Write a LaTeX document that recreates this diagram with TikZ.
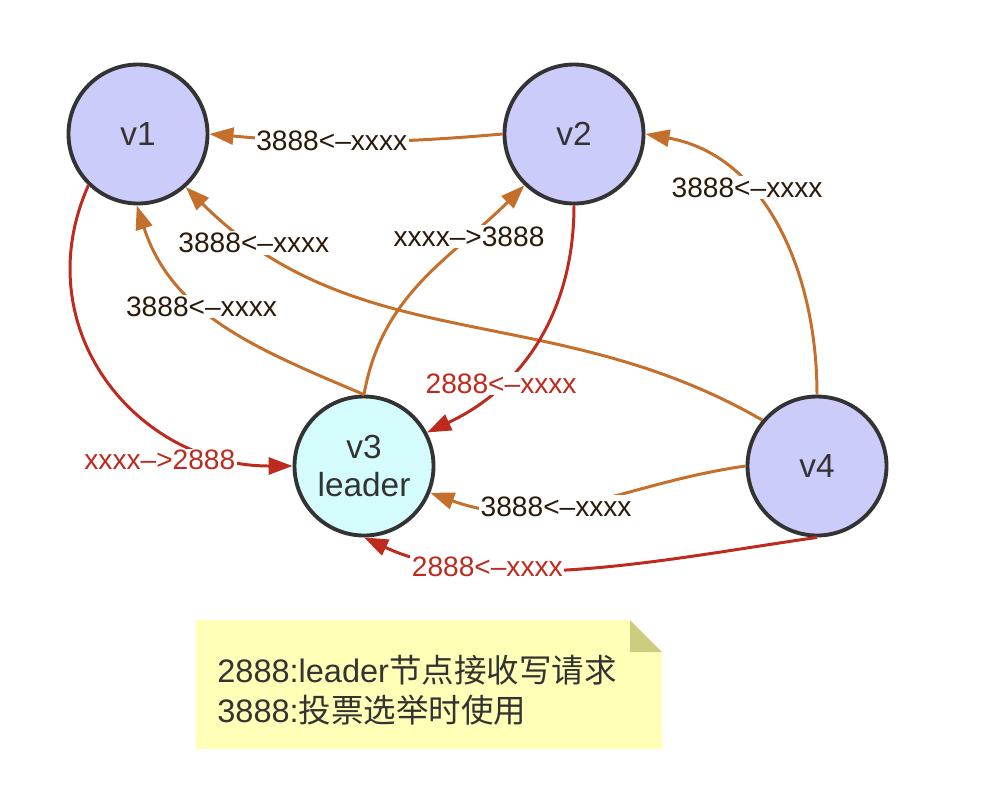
\documentclass[tikz,border=0pt]{standalone}
\usepackage{fontspec}
\setmainfont{Liberation Sans}
\newfontfamily\cjk{Noto Sans CJK SC}
\usetikzlibrary{arrows.meta}

\definecolor{nodeline}{HTML}{333333}
\definecolor{vfill}{HTML}{CCCCFA}
\definecolor{leaderfill}{HTML}{D5FCFC}
\definecolor{votecol}{HTML}{C4702C}
\definecolor{writecol}{HTML}{BE2A1E}
\definecolor{lbltext}{HTML}{2B1A0A}
\definecolor{notefill}{HTML}{FFFFB8}
\definecolor{foldfill}{HTML}{CCCC80}

\begin{document}
\begin{tikzpicture}[
    vnode/.style={circle, draw=nodeline, line width=2.2pt, fill=vfill, minimum size=2.78cm,
      text=nodeline, font=\fontsize{19}{22}\selectfont, align=center},
    vote/.style={draw=votecol, line width=1.7pt, -{Triangle[length=0.48cm,width=0.34cm]}},
    write/.style={draw=writecol, line width=1.7pt, -{Triangle[length=0.48cm,width=0.34cm]}},
    lbl/.style={fill=white, inner sep=1pt, text=lbltext, font=\fontsize{16}{19}\selectfont},
    wlbl/.style={lbl, text=writecol}
  ]
    \useasboundingbox (0,0) rectangle (20.12,-15.72);

    % Draw nodes
    \foreach \n/\x/\y in {v1/2.76/-2.68, v2/11.48/-2.68, v4/16.34/-9.32} {
      \node[vnode] (\n) at (\x,\y) {\n};
    }
    \node[vnode, fill=leaderfill] (v3) at (7.28,-9.32) {v3\\leader};

    % Draw vote edges (3888)
    \draw[vote] (v2.west) to[bend left=5] node[lbl, pos=0.59] {3888<–xxxx} (v1.east);
    \draw[vote] (v3.north) to[out=157, in=-72] node[lbl, pos=0.6] {3888<–xxxx} (v1.-91);
    \draw[vote] (v4.140) to[out=150, in=-45] node[lbl, pos=0.87] {3888<–xxxx} (v1.-48);
    \draw[vote] (v3.north) to[out=80, in=225] node[lbl, pos=0.74] {xxxx–>3888} (v2.226);
    \draw[vote] (v4.north) to[out=90, in=-10] node[lbl, pos=0.65] {3888<–xxxx} (v2.east);
    \draw[vote] (v4.west) to[out=188, in=-20] node[lbl, pos=0.6] {3888<–xxxx} (v3.-22);

    % Draw write edges (2888)
    \draw[write] (v1.226) to[out=246, in=180, looseness=1.15] node[wlbl, pos=0.88, anchor=east] {xxxx–>2888} (v3.west);
    \draw[write] (v2.south) to[out=-90, in=25] node[wlbl, pos=0.7] {2888<–xxxx} (v3.28);
    \draw[write] (v4.south) to[out=188, in=-25, looseness=0.8] node[wlbl, pos=0.71] {2888<–xxxx} (v3.south);

    % Draw note
    \fill[notefill] (3.92,-12.4) -- (12.6,-12.4) -- (13.24,-13.04) -- (13.24,-14.98) -- (3.92,-14.98) -- cycle;
    \fill[foldfill] (12.6,-12.4) -- (12.6,-13.04) -- (13.24,-13.04) -- cycle;
    \node[anchor=west, align=left, inner sep=0pt, text=nodeline, font=\fontsize{18.5}{22.8}\selectfont]
      (note) at (4.34,-13.8) {2888:leader{\cjk 节点接收写请求}\\3888:{\cjk 投票选举时使用}};

\end{tikzpicture}
\end{document}
